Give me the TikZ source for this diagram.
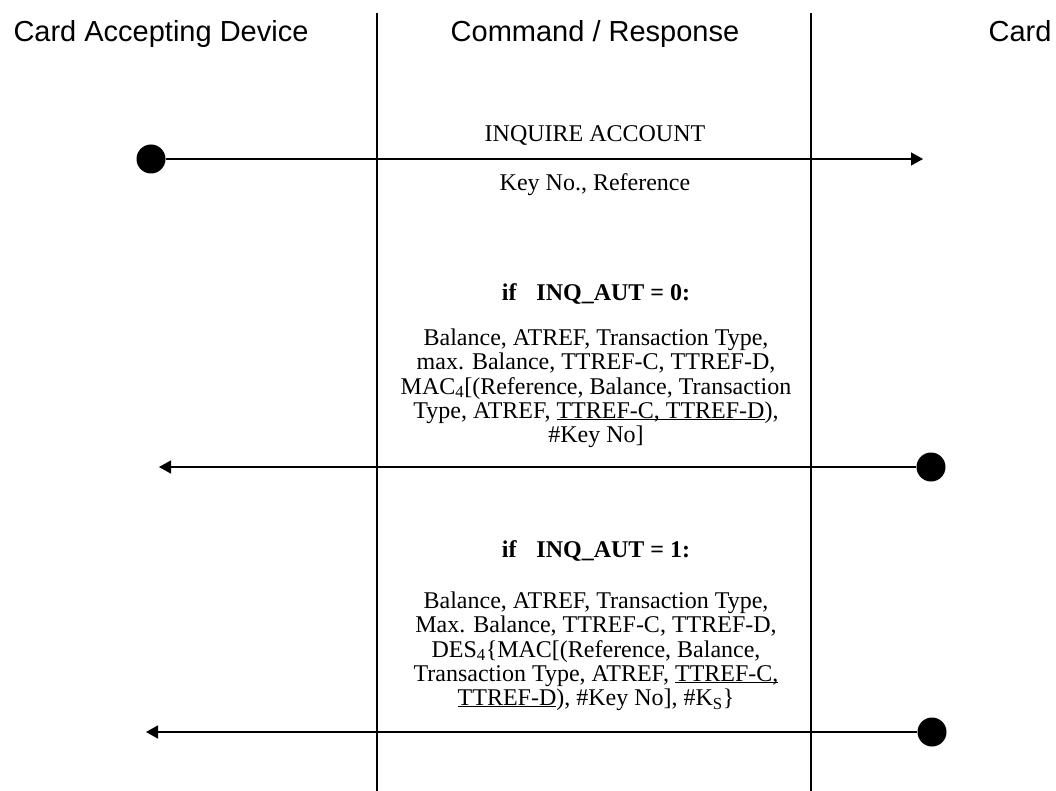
\documentclass[tikz,border=0pt]{standalone}
\usepackage{fontspec}
\setmainfont{Liberation Serif}
\newfontfamily\hdrfont{Liberation Sans}
\usetikzlibrary{arrows.meta}
\newcommand\myul[1]{\setbox0\hbox{#1}\rlap{\rule[-1.6pt]{\wd0}{1.1pt}}\box0}
\begin{document}
\begin{tikzpicture}[x=1pt,y=-1pt,
  hdr/.style={font=\hdrfont\fontsize{29}{34}\selectfont, anchor=base, inner sep=0},
  msg/.style={font=\fontsize{24}{24.2}\selectfont, align=center, inner sep=0, anchor=base},
  dot/.style={circle, fill=black, minimum size=29pt, inner sep=0},
  flow/.style={line width=1.3pt, -{Triangle[length=12pt,width=13pt]}},
  lane/.style={line width=1.3pt}]
\useasboundingbox (0,0) rectangle (1056,791);
% headers
\node[hdr] (h1) at (161,42) {Card Accepting Device};
\node[hdr] (h2) at (595,42) {Command / Response};
\node[hdr] (h3) at (1020,42) {Card};
% lanes
\coordinate (l1t) at (377,13); \coordinate (l1b) at (377,791);
\coordinate (l2t) at (811,13); \coordinate (l2b) at (811,791);
\draw[lane] (l1t) -- (l1b);
\draw[lane] (l2t) -- (l2b);
% message 1
\node[msg] (m1) at (595,141.5) {INQUIRE ACCOUNT};
\node[dot] (d1) at (151,159) {};
\coordinate (e1) at (923,159);
\draw[flow] (d1) -- (e1);
\node[msg] (m1b) at (595,190.5) {Key No., Reference};
% response 1 (base anchor = last line's baseline)
\node[msg] (c1) at (596,300) {\bfseries if\hspace{20pt}INQ\_AUT = 0:};
\node[msg] (r1) at (596,442.5) {Balance, ATREF, Transaction Type,\\
max. Balance, TTREF-C, TTREF-D,\\
MAC\textsubscript{4}[(Reference, Balance, Transaction\\
Type, ATREF, \myul{TTREF-C, TTREF-D}),\\
\#Key No]};
\node[dot] (d2) at (931,467) {};
\coordinate (e2) at (159,467);
\draw[flow] (d2) -- (e2);
% response 2
\node[msg] (c2) at (596,557) {\bfseries if\hspace{20pt}INQ\_AUT = 1:};
\node[msg] (r2) at (596,705.5) {Balance, ATREF, Transaction Type,\\
Max. Balance, TTREF-C, TTREF-D,\\
DES\textsubscript{4}\{MAC[(Reference, Balance,\\
Transaction Type, ATREF, \myul{TTREF-C,}\\
\myul{TTREF-D}), \#Key No], \#K\textsubscript{S}\}};
\node[dot] (d3) at (932,732) {};
\coordinate (e3) at (146,732);
\draw[flow] (d3) -- (e3);
\end{tikzpicture}
\end{document}
